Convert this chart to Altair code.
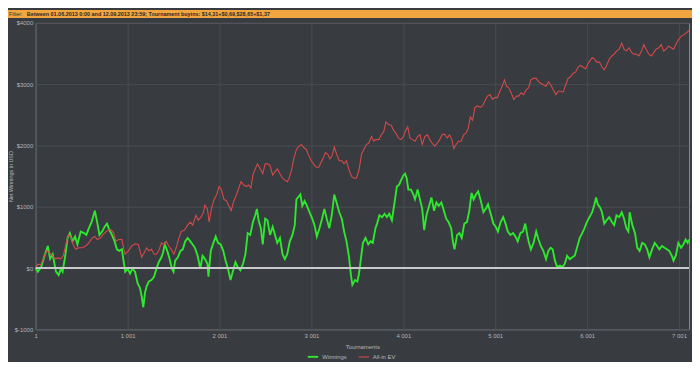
import altair as alt
import pandas as pd

FILTER_LABEL = "Filter:"
FILTER_TEXT = "Between 01.06.2013 0:00 and 12.09.2013 23:59; Tournament buyins: $14,31+$0,69,$28,65+$1,37"
SERIES = ["Winnings", "All-in EV"]
COLORS = ["#2ee82e", "#d44a4a"]

x_ticks = [1, 1001, 2001, 3001, 4001, 5001, 6001, 7001]
y_ticks = [-1000, -500, 0, 500, 1000, 1500, 2000, 2500, 3000, 3500, 4000]

win_tournament = [
    1, 25, 61, 97, 133, 158, 186, 222, 251, 276, 294, 323, 348, 373, 401, 430, 455, 491, 527, 552,
    580, 609, 645, 670, 695, 724, 752, 777, 803, 831, 860, 885, 910, 939, 957, 975, 1003, 1028, 1053, 1082,
    1111, 1136, 1154, 1172, 1190, 1208, 1233, 1261, 1290, 1315, 1340, 1369, 1387, 1405, 1433, 1458, 1483, 1501, 1519, 1548,
    1577, 1602, 1627, 1655, 1684, 1709, 1734, 1763, 1792, 1817, 1842, 1870,
    1881, 1906, 1935, 1960, 1985, 2014, 2042, 2068, 2093, 2121, 2150, 2175, 2200, 2229, 2257, 2283, 2308, 2336, 2365, 2390,
    2408, 2426, 2451, 2472, 2498, 2523, 2551, 2580, 2605, 2630, 2659, 2687, 2712, 2738, 2766, 2795, 2820, 2838, 2867, 2881,
    2902, 2927, 2953, 2981, 3010, 3035, 3060, 3089, 3117, 3142, 3168, 3196, 3225, 3250, 3275, 3304, 3332, 3357, 3383, 3411,
    3429, 3447, 3476, 3501, 3519, 3537, 3562, 3590, 3619, 3644, 3669, 3698,
    3716, 3741, 3770, 3798, 3823, 3848, 3877, 3906, 3931, 3956, 3977, 4003, 4020, 4038, 4056, 4085, 4110, 4128, 4157, 4182,
    4207, 4228, 4253, 4278, 4307, 4336, 4361, 4386, 4415, 4443, 4468, 4493, 4522, 4540, 4558, 4587, 4612, 4637, 4665, 4694,
    4719, 4744, 4766, 4791, 4816, 4845, 4873, 4898, 4923, 4952, 4981, 5006, 5031, 5060, 5088, 5113, 5138, 5167, 5196, 5221,
    5246, 5275, 5303, 5328, 5346, 5364, 5389, 5418,
    5447, 5472, 5497, 5525, 5554, 5579, 5604, 5626, 5651, 5676, 5705, 5733, 5758, 5783, 5812, 5841, 5866, 5891, 5920, 5948,
    5973, 5998, 6027, 6056, 6081, 6099, 6117, 6142, 6163, 6188, 6213, 6242, 6271, 6296, 6321, 6350, 6378, 6403, 6428, 6450,
    6464, 6493, 6522, 6547, 6572, 6600, 6629, 6654, 6679, 6708, 6737, 6762, 6787, 6815, 6844, 6869, 6894, 6923, 6941, 6966,
    6994, 7023, 7048, 7073, 7095, 7108,
]
win_value = [
    0, -60, 15, 200, 360, 150, 225, -60, -115, -10, -60, 200, 490, 570, 435, 515, 385, 595, 570, 540,
    650, 750, 935, 750, 540, 595, 675, 725, 620, 540, 435, 305, 280, 305, 120, -60, -10, -90, -10, -60,
    -250, -325, -460, -640, -405, -300, -220, -195, -140, -10, 95, 175, 250, 385, 280, 150, -10, -60, 120, 175,
    280, 305, 435, 490, 435, 385, 330, 200, -10, 200, 150, 70,
    -140, 280, 410, 515, 410, 385, 280, 120, -10, -195, -35, 95, 15, -35, 70, 225, 570, 540, 750, 860,
    965, 780, 650, 385, 805, 780, 540, 675, 540, 410, 490, 225, 145, 225, 435, 540, 700, 1120, 1175, 1200,
    1015, 1095, 1015, 910, 805, 700, 515, 650, 805, 965, 805, 650, 885, 1200, 1070, 910, 805, 595, 435, 175,
    -90, -275, -195, -220, -90, 120, 410, 490, 385, 435, 410, 650,
    725, 860, 830, 885, 830, 885, 780, 1070, 1330, 1360, 1435, 1515, 1540, 1465, 1280, 1280, 1200, 1120, 1280, 1120,
    965, 620, 860, 990, 1150, 935, 1070, 1015, 1070, 935, 805, 750, 650, 435, 305, 540, 570, 490, 725, 750,
    935, 1225, 1120, 1200, 1250, 1095, 910, 965, 1040, 885, 725, 675, 595, 750, 830, 725, 595, 540, 570, 515,
    435, 570, 595, 725, 570, 435, 305, 410,
    595, 465, 360, 280, 145, 280, 330, 305, 120, 15, 40, 15, 70, 200, 145, 175, 200, 330, 490, 570,
    650, 750, 830, 910, 1040, 1150, 1040, 990, 910, 725, 780, 830, 750, 700, 860, 830, 910, 805, 650, 595,
    910, 700, 570, 330, 280, 410, 385, 305, 175, 305, 410, 360, 305, 360, 330, 305, 280, 200, 120, 200,
    410, 330, 385, 465, 410, 465,
]

ev_tournament = [
    1, 25, 61, 97, 122, 150, 186, 215, 251, 276, 301, 330, 358, 383, 408, 437, 473, 509, 545, 580,
    616, 645, 670, 706, 731, 767, 795, 824, 849, 874, 903, 939, 957, 975, 1010, 1046, 1082, 1118, 1154, 1182,
    1208, 1233, 1261, 1290, 1315, 1340, 1369, 1397, 1422, 1448, 1476, 1505, 1530, 1555, 1584, 1620, 1655, 1684, 1709, 1745,
    1770, 1799, 1827, 1842, 1870,
    1888, 1913, 1942, 1971, 1996, 2021, 2050, 2078, 2103, 2128, 2157, 2186, 2211, 2236, 2265, 2293, 2318, 2343, 2365, 2390,
    2415, 2444, 2472, 2498, 2523, 2551, 2580, 2605, 2630, 2659, 2687, 2712, 2738, 2759, 2784, 2809, 2838, 2867, 2892, 2917,
    2945, 2974, 2999, 3024, 3053, 3082, 3107, 3132, 3153, 3178, 3203, 3225, 3250, 3275, 3304, 3332, 3357, 3383, 3411, 3440,
    3465, 3490, 3519, 3547, 3572, 3598, 3626, 3655, 3680, 3698,
    3734, 3762, 3788, 3813, 3841, 3870, 3895, 3920, 3949, 3977, 4003, 4028, 4049, 4074, 4099, 4128, 4157, 4182, 4207, 4235,
    4264, 4289, 4314, 4343, 4372, 4397, 4422, 4450, 4479, 4504, 4529, 4551, 4576, 4601, 4630, 4658, 4683, 4708, 4730, 4755,
    4780, 4809, 4837, 4863, 4888, 4916, 4945, 4970, 4995, 5024, 5052, 5077, 5103, 5124, 5149, 5174, 5203, 5232, 5257, 5282,
    5310, 5339, 5364, 5389, 5418,
    5447, 5472, 5497, 5525, 5554, 5579, 5604, 5633, 5662, 5687, 5712, 5740, 5769, 5794, 5819, 5848, 5877, 5902, 5927, 5955,
    5984, 6009, 6034, 6056, 6081, 6106, 6135, 6163, 6188, 6213, 6242, 6271, 6296, 6321, 6350, 6378, 6403, 6428, 6457, 6486,
    6511, 6536, 6565, 6593, 6618, 6643, 6672, 6701, 6726, 6751, 6780, 6808, 6833, 6858, 6887, 6916, 6941, 6966, 6994, 7023,
    7048, 7073, 7095, 7108,
]
ev_value = [
    15, 60, 60, 200, 280, 250, 200, 150, 165, 150, 200, 385, 540, 515, 385, 305, 330, 330, 360, 410,
    490, 515, 465, 490, 540, 595, 620, 620, 570, 435, 465, 465, 330, 225, 280, 360, 395, 385, 175, 250,
    330, 280, 305, 225, 225, 280, 410, 385, 435, 360, 305, 225, 330, 465, 595, 620, 700, 750, 700, 860,
    780, 830, 910, 1025, 965,
    750, 965, 1120, 1200, 1330, 1280, 1120, 1095, 1015, 935, 1095, 1200, 1305, 1410, 1355, 1330, 1355, 1305, 1515, 1620,
    1700, 1620, 1540, 1700, 1700, 1675, 1515, 1570, 1620, 1540, 1465, 1435, 1410, 1465, 1595, 1780, 1935, 1990, 2015, 1965,
    1935, 1830, 1750, 1700, 1645, 1645, 1725, 1805, 1885, 1860, 1780, 1830, 1975, 1860, 1750, 1750, 1700, 1750, 1595, 1490,
    1465, 1465, 1595, 1860, 1935, 2015, 2040, 2145, 2070, 2095,
    2095, 2175, 2225, 2385, 2340, 2330, 2250, 2200, 2120, 2095, 2145, 2250, 2305, 2120, 2095, 2070, 2145, 2175, 2015, 2145,
    2175, 2095, 2040, 1990, 2040, 2095, 2175, 2185, 2120, 2175, 2095, 1950, 2015, 2070, 2070, 2175, 2200, 2280, 2465, 2410,
    2620, 2645, 2620, 2645, 2725, 2805, 2830, 2750, 2780, 2780, 2885, 2965, 3070, 2965, 2940, 2860, 2750, 2805, 2805, 2860,
    2830, 2910, 2940, 3070, 3095,
    3095, 3040, 3015, 2990, 2965, 3040, 2990, 2910, 2830, 2885, 2885, 2870, 2990, 3095, 3120, 3175, 3200, 3280, 3305, 3280,
    3250, 3330, 3385, 3435, 3410, 3360, 3360, 3280, 3235, 3305, 3410, 3460, 3490, 3540, 3570, 3670, 3570, 3540, 3595, 3515,
    3490, 3490, 3460, 3540, 3645, 3570, 3490, 3460, 3515, 3570, 3595, 3645, 3540, 3570, 3620, 3595, 3570, 3645, 3725, 3780,
    3800, 3830, 3855, 3880,
]

BG = "#383b3f"
LABEL = "#b4b6b8"
FONT = "Liberation Sans"

df = pd.concat([
    pd.DataFrame({"t": win_tournament, "v": win_value, "series": SERIES[0]}),
    pd.DataFrame({"t": ev_tournament, "v": ev_value, "series": SERIES[1]}),
], ignore_index=True)

W, H = 661, 310
PAD = {"left": 28, "top": 13, "right": 3, "bottom": 31}

x_enc = alt.X("t:Q", scale=alt.Scale(domain=[1, 7110], nice=False, zero=False),
              axis=alt.Axis(values=x_ticks,
                            labelExpr="replace(format(datum.value, ','), ',', ' ')",
                            title="Tournaments", titleX=W / 2, titleY=17,
                            titleBaseline="middle", titleAlign="center",
                            labelPadding=3, ticks=False, labelFlush=False))
y_enc = alt.Y("v:Q", scale=alt.Scale(domain=[-1000, 4000], nice=False),
              axis=alt.Axis(values=y_ticks, labelExpr="'$' + datum.value",
                            title="Net Winnings in USD", titleX=-25, titleY=H / 2,
                            titleAngle=-90, titleAlign="center", titleBaseline="middle",
                            titleFontSize=5.5, labelPadding=3, ticks=False))

lines = alt.Chart(df).mark_line(interpolate="linear").encode(
    x=x_enc,
    y=y_enc,
    color=alt.Color("series:N", scale=alt.Scale(domain=SERIES, range=COLORS),
                    legend=alt.Legend(title=None, orient="none", direction="horizontal",
                                      legendX=274, legendY=331, symbolType="stroke",
                                      symbolStrokeWidth=3, symbolSize=110,
                                      labelFontSize=6, labelColor=LABEL, labelFont=FONT,
                                      columnPadding=9, labelOffset=3)),
    strokeWidth=alt.StrokeWidth("series:N", scale=alt.Scale(domain=SERIES, range=[1.9, 1.1]), legend=None),
    order=alt.Order("t:Q"),
)

zero_rule = alt.Chart(pd.DataFrame({"z": [0]})).mark_rule(color="#c9cacb", strokeWidth=2).encode(
    y=alt.Y("z:Q")
)

bar_df = pd.DataFrame({"label": [FILTER_LABEL], "text": [FILTER_TEXT]})
bar = alt.Chart(bar_df).mark_rect(color="#f1a63f").encode(
    x=alt.value(-PAD["left"]), x2=alt.value(W + PAD["right"]),
    y=alt.value(-PAD["top"]), y2=alt.value(-PAD["top"] + 8),
)
bar_label = alt.Chart(bar_df).mark_text(align="left", baseline="middle", fontSize=5.5,
                                        font=FONT, color="#333333").encode(
    x=alt.value(-PAD["left"] + 1), y=alt.value(-PAD["top"] + 4.5), text="label:N")
bar_text = alt.Chart(bar_df).mark_text(align="left", baseline="middle", fontSize=5.5,
                                       font=FONT, fontWeight="bold", color="#2a2a2a").encode(
    x=alt.value(-PAD["left"] + 19), y=alt.value(-PAD["top"] + 4.5), text="text:N")

chart = alt.layer(lines, zero_rule, bar, bar_label, bar_text).properties(
    width=W, height=H, padding=PAD,
    autosize=alt.AutoSizeParams(type="none"),
    background=BG,
).configure_view(
    fill=BG, stroke="#8a8c8f", strokeWidth=1,
).configure_axis(
    gridColor="#4a4d52", gridWidth=1, domain=False,
    labelColor=LABEL, labelFont=FONT, labelFontSize=6,
    titleColor=LABEL, titleFont=FONT, titleFontSize=6, titleFontWeight="normal",
)

chart.save("out.html", embed_options={"renderer": "svg", "actions": False})
